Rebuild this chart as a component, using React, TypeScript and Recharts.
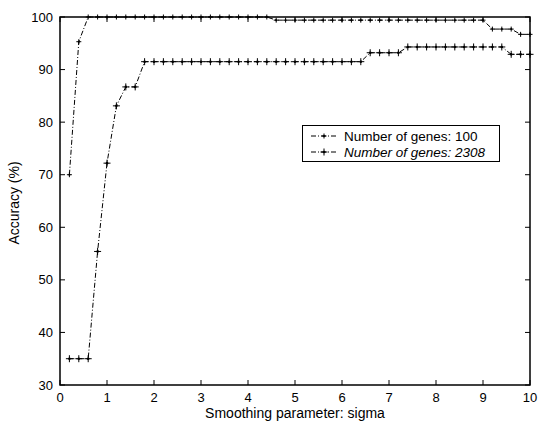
import { LineChart, Line, XAxis, YAxis, ReferenceArea } from 'recharts'

const sigma = [
  0.2, 0.4, 0.6, 0.8, 1.0, 1.2, 1.4, 1.6, 1.8, 2.0,
  2.2, 2.4, 2.6, 2.8, 3.0, 3.2, 3.4, 3.6, 3.8, 4.0,
  4.2, 4.4, 4.6, 4.8, 5.0, 5.2, 5.4, 5.6, 5.8, 6.0,
  6.2, 6.4, 6.6, 6.8, 7.0, 7.2, 7.4, 7.6, 7.8, 8.0,
  8.2, 8.4, 8.6, 8.8, 9.0, 9.2, 9.4, 9.6, 9.8, 10.0,
]
const genes100 = [
  70, 95.3, 100, 100, 100, 100, 100, 100, 100, 100,
  100, 100, 100, 100, 100, 100, 100, 100, 100, 100,
  100, 100, 99.4, 99.4, 99.4, 99.4, 99.4, 99.4, 99.4, 99.4,
  99.4, 99.4, 99.4, 99.4, 99.4, 99.4, 99.4, 99.4, 99.4, 99.4,
  99.4, 99.4, 99.4, 99.4, 99.4, 97.7, 97.7, 97.7, 96.7, 96.7,
]
const genes2308 = [
  35, 35, 35, 55.4, 72.2, 83.1, 86.7, 86.7, 91.5, 91.5,
  91.5, 91.5, 91.5, 91.5, 91.5, 91.5, 91.5, 91.5, 91.5, 91.5,
  91.5, 91.5, 91.5, 91.5, 91.5, 91.5, 91.5, 91.5, 91.5, 91.5,
  91.5, 91.5, 93.2, 93.2, 93.2, 93.2, 94.3, 94.3, 94.3, 94.3,
  94.3, 94.3, 94.3, 94.3, 94.3, 94.3, 94.3, 92.9, 92.9, 92.9,
]
const xTicks = [0, 1, 2, 3, 4, 5, 6, 7, 8, 9, 10]
const yTicks = [30, 40, 50, 60, 70, 80, 90, 100]

const data = sigma.map((s, i) => ({ sigma: s, g100: genes100[i], g2308: genes2308[i] }))

const W = 538
const H = 422
const M = { top: 17, right: 8, left: 0, bottom: 0 }
const Y_W = 60
const X_H = 37
const PLOT_TOP = M.top
const PLOT_RIGHT = W - M.right
const FONT = '"Liberation Sans", Arial, sans-serif'
const TICK = 5

function XTick({ x, y, payload }: any) {
  return (
    <g>
      <line x1={x} y1={y} x2={x} y2={y - TICK} stroke="#000" />
      <line x1={x} y1={PLOT_TOP} x2={x} y2={PLOT_TOP + TICK} stroke="#000" />
      <text x={x} y={y + 17} textAnchor="middle" fontSize={13} fontFamily={FONT} fill="#000">
        {payload.value}
      </text>
    </g>
  )
}

function YTick({ x, y, payload }: any) {
  return (
    <g>
      <line x1={x} y1={y} x2={x + TICK} y2={y} stroke="#000" />
      <line x1={PLOT_RIGHT} y1={y} x2={PLOT_RIGHT - TICK} y2={y} stroke="#000" />
      <text x={x - 7} y={y + 4.5} textAnchor="end" fontSize={13} fontFamily={FONT} fill="#000">
        {payload.value}
      </text>
    </g>
  )
}

function Plus({ cx, cy, s, r }: { cx: number; cy: number; s: number; r: number }) {
  return (
    <g>
      <path d={`M${cx - s},${cy}H${cx + s}M${cx},${cy - s}V${cy + s}`} stroke="#000" strokeWidth={1} />
      <circle cx={cx} cy={cy} r={r} fill="#000" />
    </g>
  )
}

function LegendBox() {
  const rows = [
    { label: 'Number of genes: 100', italic: false, s: 2.5, r: 1 },
    { label: 'Number of genes: 2308', italic: true, s: 3.5, r: 1.3 },
  ]
  return (
    <div style={{ position: 'absolute', left: 302, top: 125, border: '1px solid #000', background: '#fff', width: 198, height: 37, boxSizing: 'border-box', padding: '2px 0 0 7px' }}>
      {rows.map((r) => (
        <div key={r.label} style={{ display: 'flex', alignItems: 'center', height: 16 }}>
          <svg width={28} height={12}>
            <line x1={1} y1={6} x2={27} y2={6} stroke="#000" strokeDasharray="5 2 1 2" />
            <Plus cx={14} cy={6} s={r.s} r={r.r} />
          </svg>
          <span style={{ fontFamily: FONT, fontSize: 13.5, fontStyle: r.italic ? 'italic' : 'normal', marginLeft: 6, color: '#000' }}>
            {r.label}
          </span>
        </div>
      ))}
    </div>
  )
}

export default function App() {
  return (
    <div style={{ position: 'absolute', left: 0, top: 0, width: W, height: H, background: '#fff' }}>
      <LineChart width={W} height={H} data={data} margin={M}>
        <XAxis
          dataKey="sigma"
          type="number"
          domain={[0, 10]}
          ticks={xTicks}
          height={X_H}
          tickSize={0}
          tickMargin={0}
          tickLine={false}
          axisLine={false}
          tick={<XTick />}
          interval={0}
          label={{
            value: 'Smoothing parameter: sigma',
            content: ({ viewBox }: any) => (
              <text x={viewBox.x + viewBox.width / 2} y={viewBox.y + 33} textAnchor="middle" fontSize={14} fontFamily={FONT} fill="#000">
                Smoothing parameter: sigma
              </text>
            ),
          }}
        />
        <YAxis
          type="number"
          domain={[30, 100]}
          ticks={yTicks}
          width={Y_W}
          tickSize={0}
          tickMargin={0}
          tickLine={false}
          axisLine={false}
          tick={<YTick />}
          interval={0}
          label={{
            value: 'Accuracy (%)',
            content: ({ viewBox }: any) => {
              const cx = 19
              const cy = viewBox.y + viewBox.height / 2 + 2
              return (
                <text x={cx} y={cy} transform={`rotate(-90 ${cx} ${cy})`} textAnchor="middle" fontSize={14} fontFamily={FONT} fill="#000">
                  Accuracy (%)
                </text>
              )
            },
          }}
        />
        <ReferenceArea x1={0} x2={10} y1={30} y2={100} fill="none" stroke="#000" strokeWidth={1.5} ifOverflow="visible" />
        <Line
          dataKey="g100"
          stroke="#000"
          strokeWidth={1}
          strokeDasharray="5 2 1 2"
          isAnimationActive={false}
          dot={(p: any) => <Plus key={p.index} cx={p.cx} cy={p.cy} s={2.5} r={1} />}
        />
        <Line
          dataKey="g2308"
          stroke="#000"
          strokeWidth={1}
          strokeDasharray="5 2 1 2"
          isAnimationActive={false}
          dot={(p: any) => <Plus key={p.index} cx={p.cx} cy={p.cy} s={3.5} r={1.3} />}
        />
      </LineChart>
      <LegendBox />
    </div>
  )
}
